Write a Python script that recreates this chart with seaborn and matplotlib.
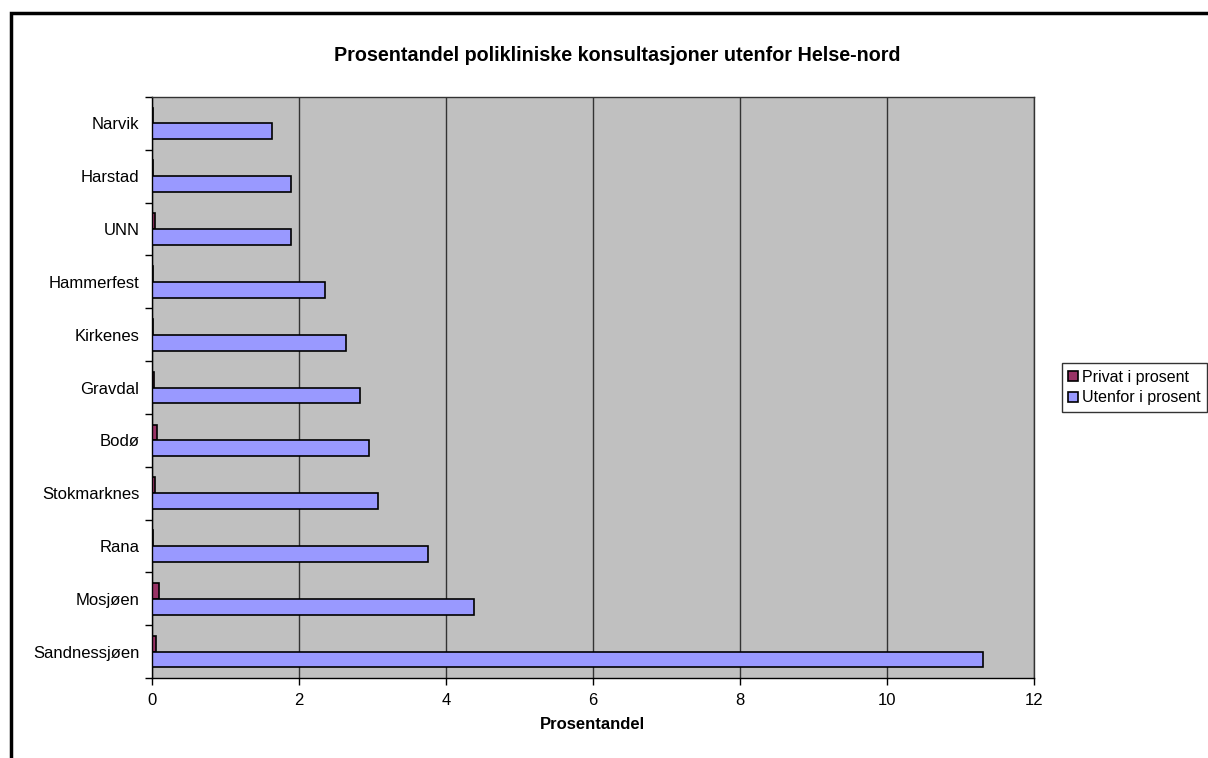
import matplotlib
matplotlib.use("Agg")
import matplotlib.pyplot as plt
import numpy as np
import pandas as pd
import seaborn as sns
from matplotlib.patches import Rectangle

# data (top to bottom)
steder = ["Narvik", "Harstad", "UNN", "Hammerfest", "Kirkenes", "Gravdal",
          "Bodø", "Stokmarknes", "Rana", "Mosjøen", "Sandnessjøen"]
privat = [0.02, 0.02, 0.04, 0.02, 0.02, 0.03, 0.07, 0.035, 0.01, 0.10, 0.05]
utenfor = [1.64, 1.89, 1.89, 2.35, 2.64, 2.83, 2.95, 3.08, 3.76, 4.38, 11.31]
serier = ["Privat i prosent", "Utenfor i prosent"]
farger = ["#993366", "#9999FF"]

df = pd.DataFrame({
    "sted": steder * 2,
    "verdi": privat + utenfor,
    "serie": [serier[0]] * len(steder) + [serier[1]] * len(steder),
})

sns.set_style("white")
plt.rcParams["font.family"] = ["Liberation Sans", "DejaVu Sans"]
plt.rcParams["text.color"] = "black"
plt.rcParams["axes.labelcolor"] = "black"
plt.rcParams["xtick.color"] = "black"
plt.rcParams["ytick.color"] = "black"

fig = plt.figure(figsize=(12.08, 7.58), dpi=100)
ax = fig.add_axes([0.1258, 0.1055, 0.7300, 0.7665])

sns.barplot(data=df, x="verdi", y="sted", hue="serie", order=steder,
            hue_order=serier, palette=farger, orient="h", width=0.6,
            edgecolor="black", linewidth=1.2, saturation=1, ax=ax)

ax.set_facecolor("#C0C0C0")
ax.set_xlim(0, 12)
ax.set_ylim(len(steder) - 0.5, -0.5)
ax.set_xticks(np.arange(0, 13, 2))
ax.xaxis.grid(True, color="#333333", linewidth=1)
ax.yaxis.grid(False)
ax.set_axisbelow(True)
for s in ax.spines.values():
    s.set_color("#333333")
    s.set_linewidth(1)
ax.spines["left"].set_color("black")
ax.spines["bottom"].set_color("black")

ax.tick_params(axis="x", direction="out", length=5, width=1,
               labelsize=12, pad=6, bottom=True)
ax.tick_params(axis="y", which="major", length=0, labelsize=12, pad=9)
ax.set_yticks(np.arange(-0.5, len(steder), 1), minor=True)
ax.tick_params(axis="y", which="minor", direction="out", length=5, width=1,
               left=True)

ax.set_xlabel("Prosentandel", fontsize=12, fontweight="bold", labelpad=6)
ax.set_ylabel("")

leg = ax.legend(loc="center left", bbox_to_anchor=(1.032, 0.5), frameon=True,
                fancybox=False, edgecolor="black", fontsize=11.5,
                handlelength=0.6, handleheight=0.6, handletextpad=0.25,
                borderpad=0.4, labelspacing=0.35, borderaxespad=0)
leg.get_frame().set_linewidth(1)
for h in leg.legend_handles:
    h.set_edgecolor("black")
    h.set_linewidth(1.2)

fig.text(0.511, 0.927, "Prosentandel polikliniske konsultasjoner utenfor Helse-nord",
         ha="center", va="center", fontsize=14.2, fontweight="bold")

fig.patches.append(Rectangle((11 / 1208, -0.05), 1.1, 1 - 13 / 758 + 0.05,
                             transform=fig.transFigure, fill=False,
                             edgecolor="black", linewidth=2.5))

fig.savefig("out.png", dpi=100)
